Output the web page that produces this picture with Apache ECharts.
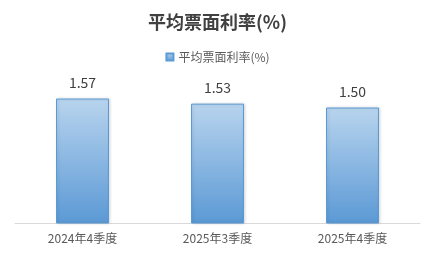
<!DOCTYPE html>
<html><head><meta charset="utf-8">
<script src="https://cdn.jsdelivr.net/npm/echarts@6/dist/echarts.min.js"></script>
<style>html,body{margin:0;padding:0;background:#fff}#c{width:435px;height:258px}</style>
</head><body><div id="c"></div>
<script>
const categories = ['2024年4季度', '2025年3季度', '2025年4季度'];
const values = [1.57, 1.53, 1.50];
const seriesName = '平均票面利率(%)';
const titleText = '平均票面利率(%)';

const chart = echarts.init(document.getElementById('c'), null, {renderer: 'canvas'});
const font = '"Microsoft YaHei","Noto Sans CJK SC",sans-serif';
chart.setOption({
  animation: false,
  title: {
    text: titleText, left: 'center', top: 8,
    textStyle: {fontSize: 18, fontWeight: 'bold', color: '#404040', fontFamily: font}
  },
  legend: {
    data: [seriesName], top: 46, left: 'center', itemWidth: 7, itemHeight: 7, itemGap: 5,
    icon: 'rect',
    textStyle: {fontSize: 12, color: '#595959', fontFamily: font}
  },
  grid: {left: 15, right: 15, top: 69, bottom: 35},
  xAxis: {
    type: 'category', data: categories,
    axisLine: {lineStyle: {color: '#d9d9d9', width: 1}},
    axisTick: {show: false},
    axisLabel: {fontSize: 12, color: '#595959', margin: 9, fontFamily: font}
  },
  yAxis: {type: 'value', min: 0.6, max: 1.8, show: false, splitLine: {show: false}},
  series: [{
    name: seriesName, type: 'bar', data: values, barWidth: 53,
    itemStyle: {
      color: new echarts.graphic.LinearGradient(0, 0, 0, 1, [
        {offset: 0, color: '#b8d4ee'}, {offset: 1, color: '#5b99d5'}
      ]),
      borderColor: '#5b9bd5', borderWidth: 1,
      shadowColor: 'rgba(0,0,0,0.15)', shadowBlur: 3, shadowOffsetX: 1
    },
    label: {
      show: true, position: 'top', distance: 9, fontSize: 14, color: '#404040', fontFamily: font,
      formatter: p => p.value.toFixed(2)
    }
  }]
});
</script></body></html>
